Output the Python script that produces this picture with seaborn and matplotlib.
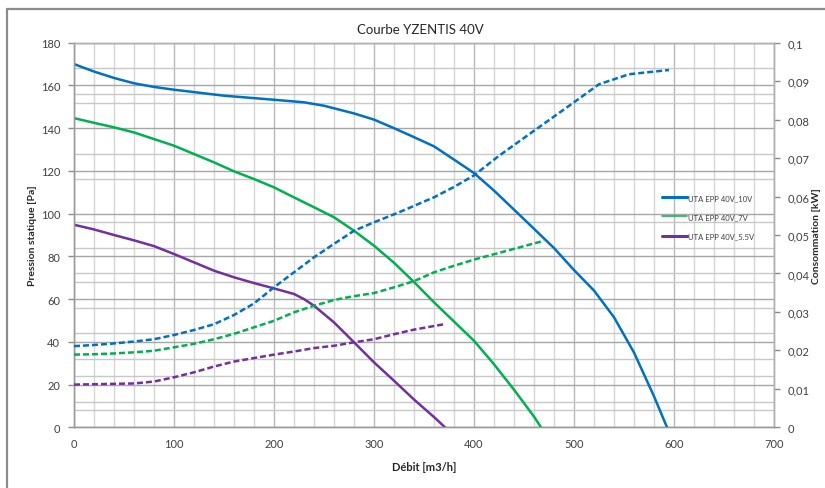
import matplotlib
matplotlib.use("Agg")
import matplotlib.pyplot as plt
from matplotlib.lines import Line2D
from matplotlib.ticker import MultipleLocator, FixedLocator, FuncFormatter
import seaborn as sns
import pandas as pd

# ---------------- data ----------------
title = "Courbe YZENTIS 40V"
labels = ["UTA EPP 40V_10V", "UTA EPP 40V_7V", "UTA EPP 40V_5.5V"]

# static pressure curves [Pa] vs flow [m3/h]
q_10 = [0, 20, 40, 60, 80, 100, 150, 200, 230, 250, 280, 300, 320, 340, 360, 380,
        400, 420, 450, 480, 500, 520, 540, 560, 580, 593]
p_10 = [170, 166.5, 163.5, 161, 159.3, 158, 155.2, 153.3, 152.1, 150.5, 146.9, 144,
        140, 135.8, 131.5, 125.3, 119, 110.8, 97.4, 83.9, 73.6, 64, 51.5, 35, 14.5, 0]

q_7 = [0, 20, 40, 60, 80, 100, 120, 140, 160, 180, 200, 220, 240, 260, 280, 300,
       320, 340, 360, 380, 400, 420, 440, 460, 467]
p_7 = [144.7, 142.5, 140.4, 138, 134.9, 131.8, 127.9, 124, 119.8, 116.2, 112.3, 107.6,
       103, 98.3, 92, 85, 77, 68, 58.5, 49.5, 40.5, 29.5, 17.6, 5, 0]

q_55 = [0, 20, 40, 60, 80, 100, 120, 140, 160, 180, 200, 220, 230, 240, 260, 280,
        300, 320, 340, 360, 371]
p_55 = [94.8, 92.6, 90, 87.5, 84.8, 81.1, 77.2, 73.3, 70.2, 67.5, 65, 62.4, 60, 56.9,
        49.1, 39.8, 30.4, 21.8, 13, 4.8, 0]

# power consumption curves [kW] vs flow [m3/h]
qc_10 = [0, 20, 40, 60, 80, 100, 120, 140, 160, 180, 200, 220, 240, 260, 280, 300,
         325, 360, 380, 400, 425, 460, 500, 525, 555, 595]
c_10 = [0.0211, 0.0214, 0.0218, 0.0223, 0.0229, 0.0240, 0.0253, 0.0268, 0.0292, 0.0322,
        0.0364, 0.0403, 0.0442, 0.0477, 0.0511, 0.0533, 0.0559, 0.0598, 0.0625, 0.0655,
        0.0706, 0.0771, 0.0845, 0.0892, 0.0918, 0.0929]

qc_7 = [0, 20, 40, 60, 80, 100, 120, 140, 160, 180, 200, 220, 240, 260, 280, 300, 320,
        340, 360, 380, 400, 420, 440, 470]
c_7 = [0.0189, 0.0190, 0.0192, 0.0195, 0.0199, 0.0208, 0.0217, 0.0229, 0.0243, 0.0260,
       0.0277, 0.0299, 0.0316, 0.0331, 0.0341, 0.0349, 0.0364, 0.0380, 0.0403, 0.0420,
       0.0436, 0.0450, 0.0464, 0.0485]

qc_55 = [0, 20, 40, 60, 80, 100, 120, 140, 160, 180, 200, 220, 240, 260, 280, 300, 320,
         340, 370]
c_55 = [0.0111, 0.0112, 0.0113, 0.0114, 0.0119, 0.0130, 0.0143, 0.0158, 0.0171, 0.0180,
        0.0189, 0.0197, 0.0206, 0.0212, 0.0221, 0.0229, 0.0242, 0.0254, 0.0268]

colors = ["#0070C0", "#00B050", "#7030A0"]

# ---------------- style ----------------
sns.set_theme(style="white")
plt.rcParams["font.family"] = ["Lato", "DejaVu Sans"]
plt.rcParams["axes.unicode_minus"] = False

fig = plt.figure(figsize=(8.25, 4.89), dpi=100)
W, H = 825, 489
ax = fig.add_axes([74 / W, 1 - 428.3 / H, 700 / W, 384.6 / H])
ax2 = ax.twinx()

# outer chart-area frame (top and left edges visible)
fig.add_artist(Line2D([7 / W, 1.0], [1 - 10 / H, 1 - 10 / H], transform=fig.transFigure,
                      color="#8c8c8c", lw=1.6))
fig.add_artist(Line2D([7 / W, 7 / W], [0, 1 - 10 / H], transform=fig.transFigure,
                      color="#8c8c8c", lw=1.6))

lw = 1.8
dash = (0, (2.4, 1.2))
pressure = [(q_10, p_10), (q_7, p_7), (q_55, p_55)]
power = [(qc_10, c_10), (qc_7, c_7), (qc_55, c_55)]

for (q, p), col, lab in zip(pressure, colors, labels):
    df = pd.DataFrame({"q": q, "p": p})
    sns.lineplot(data=df, x="q", y="p", ax=ax, color=col, lw=lw, sort=False,
                 estimator=None, label=lab, zorder=3)

for (q, c), col in zip(power, colors):
    df = pd.DataFrame({"q": q, "c": c})
    sns.lineplot(data=df, x="q", y="c", ax=ax2, color=col, lw=lw, sort=False,
                 estimator=None, zorder=3)
    ax2.lines[-1].set_linestyle(dash)

# ---------------- axes ----------------
ax.set_xlim(0, 700)
ax.set_ylim(0, 180)
ax2.set_ylim(0, 0.1)

ax.xaxis.set_major_locator(MultipleLocator(100))
ax.xaxis.set_minor_locator(MultipleLocator(20))
ax.yaxis.set_major_locator(MultipleLocator(20))
ax.yaxis.set_minor_locator(FixedLocator([8, 12, 24, 32, 44, 56, 68, 72, 84, 96, 116,
                                          128, 152, 156, 168]))
ax2.yaxis.set_major_locator(MultipleLocator(0.01))
ax2.yaxis.set_major_formatter(FuncFormatter(
    lambda v, p: f"{v:.2f}".rstrip("0").rstrip(".").replace(".", ",") if v > 1e-9 else "0"))

ax.grid(True, which="major", axis="y", color="#a6a6a6", lw=1.0)
ax.grid(True, which="minor", axis="y", color="#c8c8c8", lw=1.0)
ax.grid(True, which="major", axis="x", color="#b8b8b8", lw=1.0)
ax.grid(True, which="minor", axis="x", color="#d6d6d6", lw=1.0)
ax.set_axisbelow(True)
ax2.grid(False)

tick_col = "#404040"
ax.tick_params(axis="y", which="major", length=4, width=1, color="#8c8c8c",
               labelsize=8, labelcolor=tick_col, pad=6, left=True)
ax.tick_params(axis="y", which="minor", length=0)
ax.tick_params(axis="x", which="both", length=0, labelsize=8, labelcolor=tick_col, pad=8)
ax2.tick_params(axis="y", length=4, width=1, color="#8c8c8c", labelsize=8,
                labelcolor=tick_col, pad=6, right=True)

for a in (ax, ax2):
    for s in a.spines.values():
        s.set_color("#b0b0b0")
        s.set_linewidth(1.0)
ax2.spines["left"].set_color("#9a9a9a")
ax2.spines["bottom"].set_color("#9a9a9a")

ax.set_xlabel("Débit [m3/h]", fontsize=8, fontweight="bold", color="#262626", labelpad=8)
ax.set_ylabel("Pression statique [Pa]", fontsize=7.5, fontweight="bold", color="#262626")
ax.yaxis.set_label_coords((37 - 74) / 700, 0.5)
ax2.set_ylabel("Consommation [kW]", fontsize=7.5, fontweight="bold", color="#262626")
ax2.yaxis.set_label_coords((812 - 74) / 700, 0.5)
fig.text(420 / W, 1 - 30 / H, title, ha="center", va="center", fontsize=9.5,
         color="#262626")

# legend
handles, labs = ax.get_legend_handles_labels()
ax.get_legend().remove()
leg = ax2.legend(handles, labs, loc="center left", bbox_to_anchor=(0.835, 0.548),
                 frameon=False, fontsize=5.5, handlelength=3.2, handletextpad=0.2,
                 labelspacing=1.6, borderpad=0)
for h, w in zip(leg.get_lines(), [2.2, 1.1, 2.2]):
    h.set_linewidth(w)
for t in leg.get_texts():
    t.set_color("#404040")

fig.savefig("out.png", dpi=100)
